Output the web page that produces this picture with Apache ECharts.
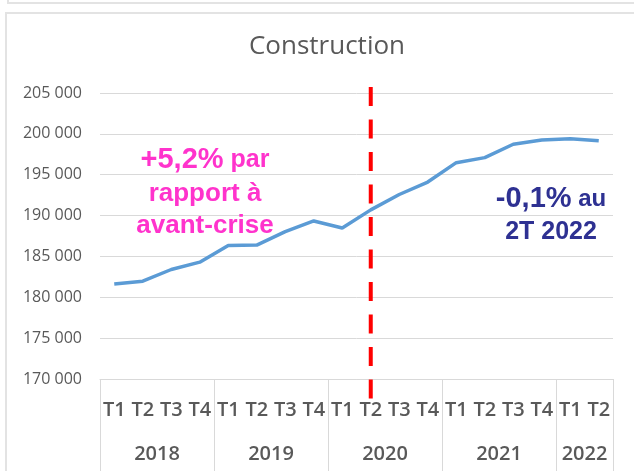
<!DOCTYPE html>
<html lang="fr">
  <head>
    <meta charset="UTF-8" />
    <title>Construction</title>
    <script src="https://cdn.jsdelivr.net/npm/echarts@6/dist/echarts.min.js"></script>
    <style>
      html,
      body {
        margin: 0;
        padding: 0;
        background: #fff;
      }
      #main {
        width: 634px;
        height: 471px;
      }
    </style>
  </head>
  <body>
    <div id="main"></div>
    <script>
      // données
      var years = ["2018", "2019", "2020", "2021", "2022"];
      var quartersPerYear = [4, 4, 4, 4, 2];
      var quarterLabels = [
        "T1", "T2", "T3", "T4",
        "T1", "T2", "T3", "T4",
        "T1", "T2", "T3", "T4",
        "T1", "T2", "T3", "T4",
        "T1", "T2",
      ];
      var emploi = [
        181640, 181970, 183400, 184300,
        186350, 186390, 188030, 189340,
        188480, 190700, 192580, 194100,
        196475, 197090, 198730, 199260,
        199400, 199150,
      ];
      var yTicks = [170000, 205000, 5000]; // min, max, pas
      var crisisIndex = 9; // 2020 T2

      // bornes des années et milieu de chaque groupe, sur l'axe 0..18
      var yearBounds = [0],
        yearMiddles = [];
      quartersPerYear.forEach(function (n, i) {
        var start = yearBounds[i];
        yearBounds.push(start + n);
        yearMiddles.push(start + n / 2);
      });

      var gray = "#595959";
      var lineGray = "#d9d9d9";
      var font = "Open Sans";

      var myChart = echarts.init(document.getElementById("main"));
      var option = {
        backgroundColor: "#fff",
        animation: false,
        title: {
          text: "Construction",
          left: 322,
          top: 29,
          textAlign: "center",
          textStyle: {
            fontFamily: font,
            fontSize: 26,
            fontWeight: "normal",
            color: gray,
          },
        },
        grid: {
          left: 100,
          right: 21,
          top: 93,
          bottom: 92,
          containLabel: false,
        },
        xAxis: [
          {
            type: "category",
            data: quarterLabels,
            boundaryGap: true,
            axisLine: { show: true, lineStyle: { color: lineGray } },
            axisTick: { show: false },
            axisLabel: {
              interval: 0,
              margin: 21,
              fontFamily: font,
              fontSize: 20,
              fontWeight: 600,
              color: gray,
            },
          },
          {
            type: "value",
            position: "bottom",
            min: 0,
            max: yearBounds[yearBounds.length - 1],
            axisLine: { show: false },
            splitLine: { show: false },
            axisTick: {
              show: true,
              customValues: yearBounds,
              length: 92,
              lineStyle: { color: lineGray },
            },
            axisLabel: {
              customValues: yearMiddles,
              margin: 65,
              fontFamily: font,
              fontSize: 20,
              fontWeight: 600,
              color: gray,
              formatter: function (v) {
                return years[yearMiddles.indexOf(v)];
              },
            },
          },
        ],
        yAxis: {
          type: "value",
          min: yTicks[0],
          max: yTicks[1],
          interval: yTicks[2],
          axisLine: { show: false },
          axisTick: { show: false },
          splitLine: { lineStyle: { color: lineGray, width: 1 } },
          axisLabel: {
            margin: 18,
            fontFamily: font,
            fontSize: 16,
            color: gray,
            formatter: function (v) {
              return String(v).replace(/\B(?=(\d{3})+(?!\d))/g, " ");
            },
          },
        },
        series: [
          {
            name: "Construction",
            type: "line",
            data: emploi,
            symbol: "none",
            smooth: false,
            lineStyle: { color: "#5b9bd5", width: 3.5 },
          },
        ],
      };
      myChart.setOption(option);

      // ligne rouge de la crise + annotations
      var crisisX = myChart.convertToPixel({ xAxisIndex: 0 }, crisisIndex);
      var pink = "#ff33cc";
      var blue = "#2e3192";
      var annot = "Liberation Sans";
      myChart.setOption({
        graphic: [
          {
            type: "rect",
            silent: true,
            shape: { x: 8, y: -20, width: 700, height: 23 },
            style: { fill: "none", stroke: "#e3e3e3", lineWidth: 2 },
          },
          {
            type: "rect",
            silent: true,
            shape: { x: 6, y: 13, width: 700, height: 500 },
            style: { fill: "none", stroke: "#e3e3e3", lineWidth: 2 },
          },
          {
            type: "line",
            silent: true,
            shape: { x1: crisisX, y1: 87, x2: crisisX, y2: 399 },
            style: { stroke: "#ff0000", lineWidth: 4, lineDash: [19, 13.5] },
            z: 10,
          },
          {
            type: "text",
            x: 205,
            y: 160,
            style: {
              text: "{a|+5,2%}{b| par}",
              align: "center",
              verticalAlign: "middle",
              fill: pink,
              rich: {
                a: { fontFamily: annot, fontWeight: "bold", fontSize: 29, fill: pink },
                b: { fontFamily: annot, fontWeight: "bold", fontSize: 25, fill: pink },
              },
            },
            z: 20,
          },
          {
            type: "text",
            x: 205,
            y: 194,
            style: {
              text: "rapport à",
              align: "center",
              verticalAlign: "middle",
              fontFamily: annot,
              fontWeight: "bold",
              fontSize: 26,
              fill: pink,
            },
            z: 20,
          },
          {
            type: "text",
            x: 205,
            y: 226,
            style: {
              text: "avant-crise",
              align: "center",
              verticalAlign: "middle",
              fontFamily: annot,
              fontWeight: "bold",
              fontSize: 26,
              fill: pink,
            },
            z: 20,
          },
          {
            type: "text",
            x: 551,
            y: 199,
            style: {
              text: "{a|-0,1%}{b| au}",
              align: "center",
              verticalAlign: "middle",
              fill: blue,
              rich: {
                a: { fontFamily: annot, fontWeight: "bold", fontSize: 29, fill: blue },
                b: { fontFamily: annot, fontWeight: "bold", fontSize: 24, fill: blue },
              },
            },
            z: 20,
          },
          {
            type: "text",
            x: 551,
            y: 232,
            style: {
              text: "2T 2022",
              align: "center",
              verticalAlign: "middle",
              fontFamily: annot,
              fontWeight: "bold",
              fontSize: 25,
              fill: blue,
            },
            z: 20,
          },
        ],
      });
    </script>
  </body>
</html>
